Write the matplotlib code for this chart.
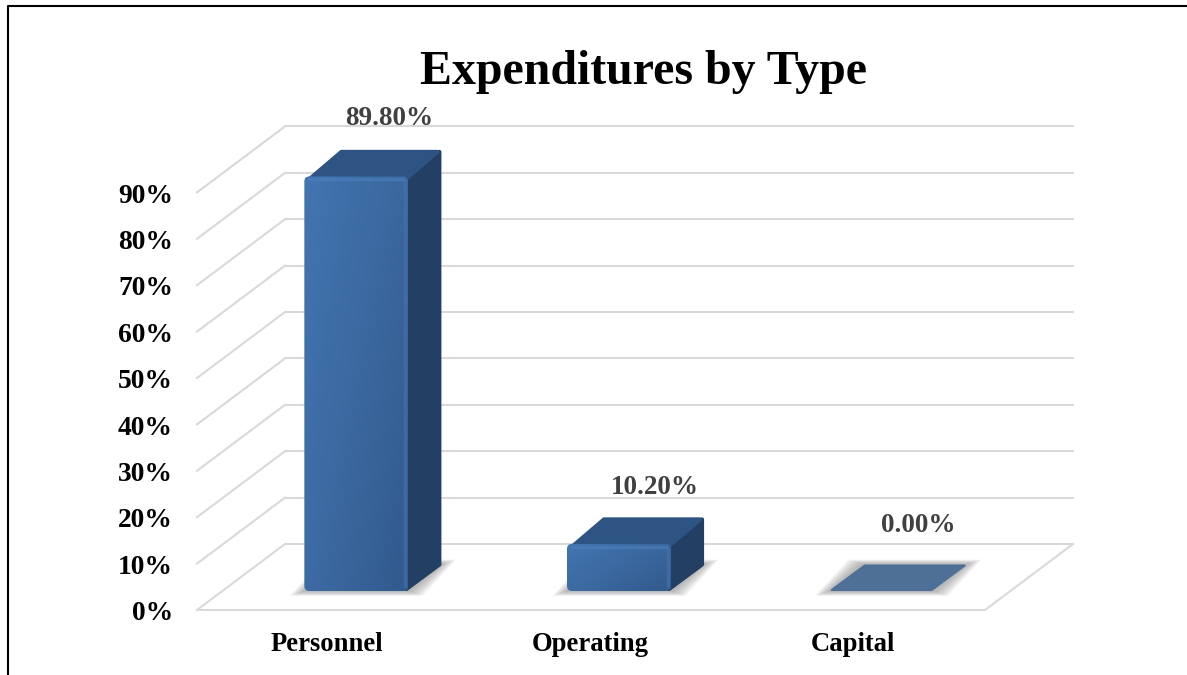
import numpy as np
import matplotlib
matplotlib.use('Agg')
import matplotlib.pyplot as plt
from matplotlib.colors import to_rgb
from matplotlib.lines import Line2D
from matplotlib.patches import FancyBboxPatch, Polygon

categories = ['Personnel', 'Operating', 'Capital']
values = [89.8, 10.2, 0.0]
value_labels = ['89.80%', '10.20%', '0.00%']
y_ticks = [0, 10, 20, 30, 40, 50, 60, 70, 80, 90]

W, H = 1187, 675
PX_X = 262.67  # pixels per category
PX_Y = 4.64    # pixels per percent
X0, Y0 = 197, 610

DEPTH_X, DEPTH_Y = 88 / PX_X, 66 / PX_Y
BAR_W = 104 / PX_X
BAR_DX, BAR_DY = 33 / PX_X, 26.5 / PX_Y
BAR_BASE = 19 / PX_Y
BAR_SHIFT = 28 / PX_X
BAR_SCALE = 0.995

# label placement by hand, in px and percent
NUDGE_X = (0, 3, 4)
LIFT_Y = (12.4, 12.1, 14.2)

GRID = '#d9d9d9'

plt.rcParams['font.family'] = 'Liberation Serif'

fig = plt.figure(figsize=(W / 100, H / 100), dpi=100)
ax = fig.add_axes([0, 0, 1, 1])
ax.set_axis_off()


def gradient(ax, box, c_tl, c_tr, c_bl, c_br, clip):
    tl, tr, bl, br = [np.array(to_rgb(c)) for c in (c_tl, c_tr, c_bl, c_br)]
    u = np.linspace(0, 1, 40)[None, :, None]
    v = np.linspace(0, 1, 60)[:, None, None]
    img = (tl * (1 - u) + tr * u) * (1 - v) + (bl * (1 - u) + br * u) * v
    im = ax.imshow(img, extent=box, origin='upper', aspect='auto', zorder=5, interpolation='bilinear')
    im.set_clip_path(clip)


# walls and floor
for tick in y_ticks:
    ax.add_line(Line2D([0, DEPTH_X], [tick, tick + DEPTH_Y], color=GRID, lw=1.5))
    ax.add_line(Line2D([DEPTH_X, len(categories) + DEPTH_X], [tick + DEPTH_Y] * 2, color=GRID, lw=1.5))
ax.add_line(Line2D([0, len(categories), len(categories) + DEPTH_X], [0, 0, DEPTH_Y], color=GRID, lw=1.5))

for tick in y_ticks:
    ax.text(-24 / PX_X, tick - 0.8, f'{tick}%', ha='right', va='center', fontsize=19.8, fontweight='bold', color='black')

for i, (name, val) in enumerate(zip(categories, values)):
    left = i + 0.5 - BAR_W / 2 + BAR_SHIFT
    right = left + BAR_W
    base = BAR_BASE
    top = base + val * BAR_SCALE
    ix, iy = 2 / PX_X, 2 / PX_Y

    # soft shadow on the floor
    for k in range(1, 9):
        ex, ey = (9 - k) * 1.8 / PX_X, (9 - k) * 0.6 / PX_Y
        ax.add_patch(Polygon(
            [(left - ex, base - ey), (right + ex, base - ey),
             (right + BAR_DX + ex, base + BAR_DY + ey), (left + BAR_DX - ex, base + BAR_DY + ey)],
            closed=True, fc='#7f7f7f', ec='none', alpha=0.09, zorder=2))

    if val > 0:
        # right side
        ax.add_patch(Polygon(
            [(right - ix, base + iy), (right + BAR_DX - ix, base + BAR_DY), (right + BAR_DX - ix, top + BAR_DY - iy), (right - ix, top - iy)],
            closed=True, fc='#233f63', ec='#233f63', lw=3, joinstyle='round', zorder=4))
        # top face
        ax.add_patch(Polygon(
            [(left + 3 * ix, top - iy), (right - ix, top - iy), (right + BAR_DX - 2 * ix, top + BAR_DY - iy), (left + BAR_DX + 2 * ix, top + BAR_DY - iy)],
            closed=True, fc='#2d5483', ec='#2d5483', lw=3, joinstyle='round', zorder=4))
        # front face with gradient and bevel
        round_px = 5 / PX_X
        face = FancyBboxPatch((left, base), BAR_W, top - base,
                              boxstyle=f'round,pad=0,rounding_size={round_px}',
                              mutation_aspect=PX_X / PX_Y, fc='none', ec='none', zorder=5)
        ax.add_patch(face)
        gradient(ax, (left, right, base, top), '#4375b0', '#3a679e', '#3d6ba3', '#315a8d', face)
        ax.add_line(Line2D([right - 3 / PX_X] * 2, [base + 1, top - 1], color='#4270a8', lw=2.5, alpha=0.7, zorder=6))
        ax.add_line(Line2D([left + 5 / PX_X, right - 5 / PX_X], [top - 0.6] * 2, color='#4a7cb8', lw=2.5, alpha=0.7, zorder=6))
        ax.add_line(Line2D([left + 3 / PX_X, right - 3 / PX_X], [base - 0.2] * 2, color='#c8ccd2', lw=1, zorder=6))
    else:
        ax.add_patch(Polygon(
            [(left + ix, top + iy / 2), (right - ix, top + iy / 2), (right + BAR_DX - ix, top + BAR_DY - iy / 2), (left + BAR_DX + ix, top + BAR_DY - iy / 2)],
            closed=True, fc='#4f7096', ec='#4f7096', lw=1.5, joinstyle='round', zorder=4))

    ax.text(i + 0.5 + BAR_SHIFT + BAR_DX + NUDGE_X[i] / PX_X, top + LIFT_Y[i], value_labels[i], ha='center', va='center',
            fontsize=19.5, fontweight='bold', color='#404040', zorder=7)
    ax.text(i + 0.5 - 1 / PX_X, -34.5 / PX_Y, name, ha='center', va='center', fontsize=19.2, fontweight='bold', color='black')

ax.text((643 - X0) / PX_X, (Y0 - 72) / PX_Y, 'Expenditures by Type', ha='center', va='center',
        fontsize=34.5, fontweight='bold', color='black')

ax.set_xlim(-X0 / PX_X, (W - X0) / PX_X)
ax.set_ylim((Y0 - H) / PX_Y, Y0 / PX_Y)

# page border
fig.add_artist(Line2D([7.5 / W, 7.5 / W, 1], [0, 1 - 5.5 / H, 1 - 5.5 / H], color='black', lw=1.5,
                      transform=fig.transFigure))

fig.savefig('out.png', dpi=100)
